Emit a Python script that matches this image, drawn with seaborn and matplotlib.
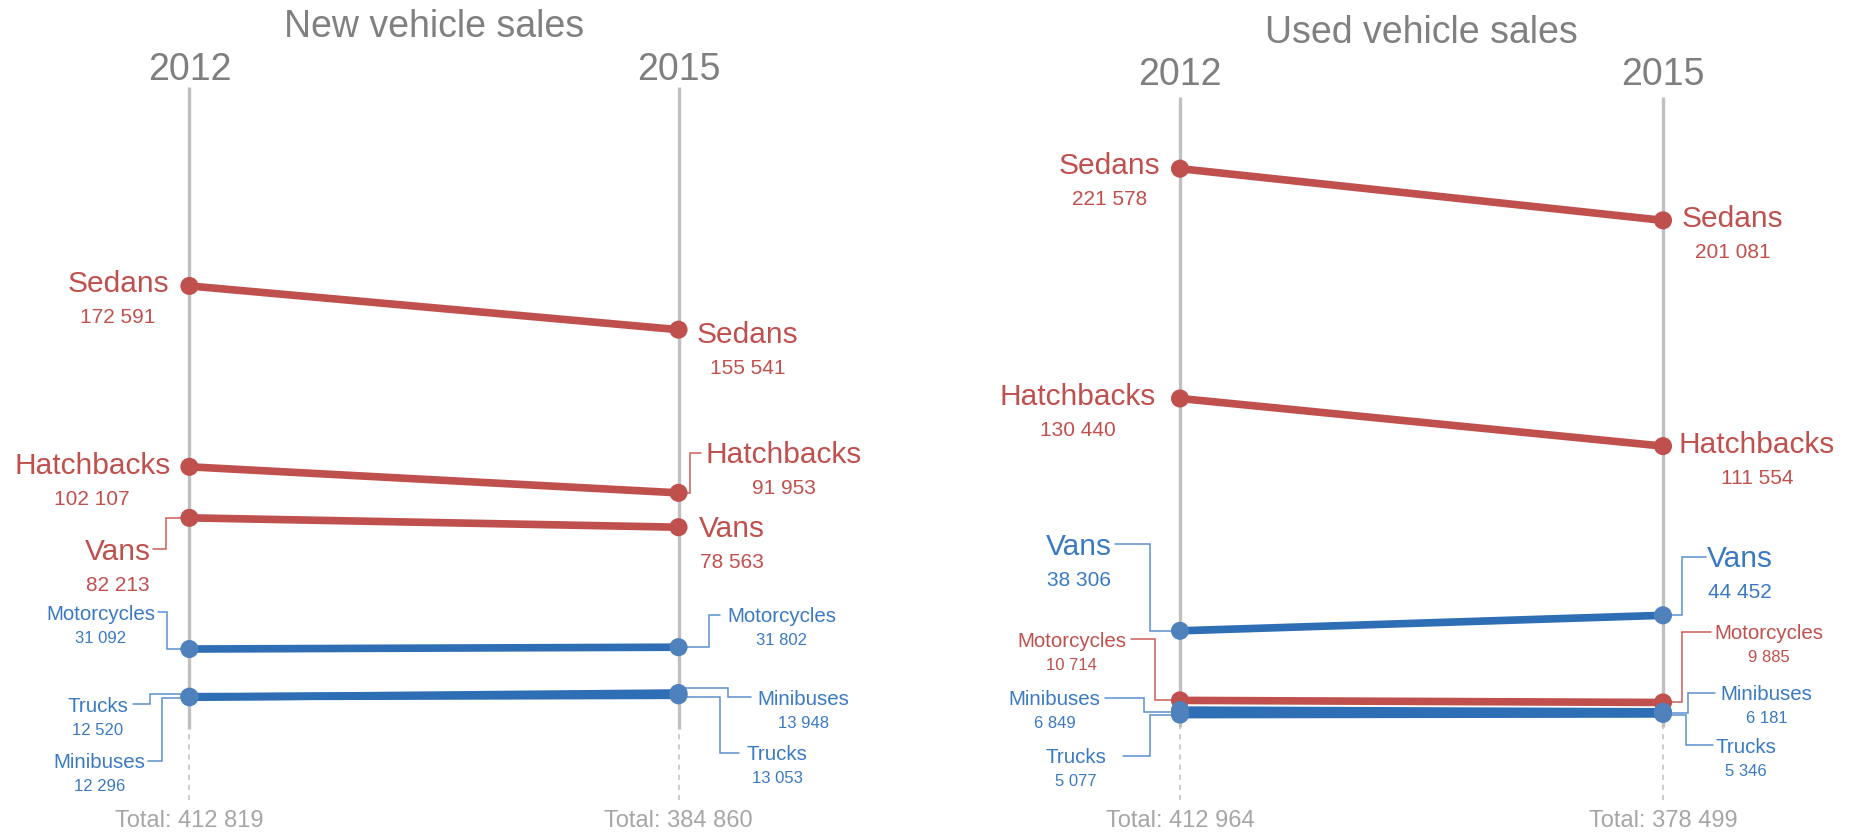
import matplotlib
matplotlib.use("Agg")
import matplotlib.pyplot as plt
import pandas as pd
import seaborn as sns

# ---- data -------------------------------------------------------------
years = [2012, 2015]
categories = ["Sedans", "Hatchbacks", "Vans", "Motorcycles", "Trucks", "Minibuses"]
new_2012 = [172591, 102107, 82213, 31092, 12520, 12296]
new_2015 = [155541, 91953, 78563, 31802, 13053, 13948]
used_2012 = [221578, 130440, 38306, 10714, 5077, 6849]
used_2015 = [201081, 111554, 44452, 9885, 5346, 6181]
new_group = ["down", "down", "down", "up", "up", "up"]
used_group = ["down", "down", "up", "down", "up", "up"]
titles = ["New vehicle sales", "Used vehicle sales"]

# ---- style ------------------------------------------------------------
RED = "#c0504d"
BLUE_LINE = "#2e6eb5"
BLUE_DOT = "#4f81bd"
BLUE_TEXT = "#3a79c3"
RED_CONN = "#cd5c57"
BLUE_CONN = "#5b8fd0"
line_pal = {"down": RED, "up": BLUE_LINE}
dot_pal = {"down": RED, "up": BLUE_DOT}
text_pal = {"down": RED, "up": BLUE_TEXT}
conn_pal = {"down": RED_CONN, "up": BLUE_CONN}

W, H = 1852, 832
SCALE_TOP = 250000

# label layout in pixels: (name baseline - dot y, text gap from axis, connector)
# connector = (attach dy, elbow dx, stub end dx), dx measured outward from axis
NEW_LAYOUT = {
    2012: {
        "Sedans": (6, 20.5, None),
        "Hatchbacks": (7, 19, None),
        "Vans": (42, 38.5, (0, 23.5, 36.5)),
        "Motorcycles": (-29.3, 34.3, (0, 22.6, 31)),
        "Trucks": (15, 61, (-2.7, 39.3, 56)),
        "Minibuses": (71, 44.3, (0.5, 27.6, 41)),
    },
    2015: {
        "Sedans": (13, 18, None),
        "Hatchbacks": (-29.4, 27, (0, 11, 22.6)),
        "Vans": (10, 20, None),
        "Motorcycles": (-25, 48.7, (0, 30, 41)),
        "Trucks": (64.7, 68, (1.7, 41, 60)),
        "Minibuses": (11.5, 79.3, (-5.5, 49.7, 72.7)),
    },
}
USED_LAYOUT = {
    2012: {
        "Sedans": (5.4, 20, None),
        "Hatchbacks": (6.6, 24, None),
        "Vans": (-75.8, 68, (0, 30.5, 65)),
        "Motorcycles": (-53.7, 54, (0, 25, 49.3)),
        "Trucks": (48.7, 74, (0, 30, 57.3)),
        "Minibuses": (-5, 79.6, (1.6, 36, 75)),
    },
    2015: {
        "Sedans": (6.4, 18.6, None),
        "Hatchbacks": (7.3, 15.8, None),
        "Vans": (-48, 44.3, (0, 18.7, 43)),
        "Motorcycles": (-63.2, 51.3, (0, 19, 48)),
        "Trucks": (38.8, 52, (1, 23, 50.3)),
        "Minibuses": (-11.8, 57.7, (1, 25.3, 52)),
    },
}

panels = [
    dict(title=titles[0], v0=new_2012, v1=new_2015, group=new_group, layout=NEW_LAYOUT,
         x0=189.4, x1=678.5, top=87.3, zero=728.8, title_base=37.3, year_base=80),
    dict(title=titles[1], v0=used_2012, v1=used_2015, group=used_group, layout=USED_LAYOUT,
         x0=1180, x1=1663, top=97, zero=727.4, title_base=43.3, year_base=85),
]
BOTTOM = 800
TOTAL_BASE = 826.7


def fmt(v):
    return f"{v:,}".replace(",", " ")


sns.set_theme(style="white")
plt.rcParams["font.family"] = ["Liberation Sans", "DejaVu Sans"]

fig = plt.figure(figsize=(W / 100, H / 100), dpi=100)
renderer = fig.canvas.get_renderer()

for p in panels:
    ppy = (p["x1"] - p["x0"]) / (years[1] - years[0])
    left_px, right_px = p["x0"] - 60, p["x1"] + 60
    ax = fig.add_axes([left_px / W, (H - BOTTOM) / H, (right_px - left_px) / W, (BOTTOM - p["top"]) / H])

    df = pd.DataFrame({
        "category": categories * 2,
        "year": [years[0]] * len(categories) + [years[1]] * len(categories),
        "sales": list(p["v0"]) + list(p["v1"]),
        "group": list(p["group"]) * 2,
    })

    sns.lineplot(data=df, x="year", y="sales", units="category", estimator=None, hue="group",
                 palette=line_pal, linewidth=5.5, legend=False, sort=False, ax=ax, zorder=3)
    sns.scatterplot(data=df, x="year", y="sales", hue="group", palette=dot_pal, s=170,
                    linewidth=0, legend=False, ax=ax, zorder=4, clip_on=False)

    ymin = -(BOTTOM - p["zero"]) / (p["zero"] - p["top"]) * SCALE_TOP
    ax.set_xlim(years[0] - (p["x0"] - left_px) / ppy, years[1] + (right_px - p["x1"]) / ppy)
    ax.set_ylim(ymin, SCALE_TOP)
    ax.set_axis_off()

    inv = ax.transData.inverted()

    def to_data(xp, yp):
        return inv.transform((xp, H - yp))

    def to_px(x, y):
        d = ax.transData.transform((x, y))
        return d[0], H - d[1]

    # year axes
    for yr, total in zip(years, [sum(p["v0"]), sum(p["v1"])]):
        ax.plot([yr, yr], [0, SCALE_TOP], color="#c0c0c0", lw=2.4, zorder=1,
                solid_capstyle="butt", clip_on=False)
        ax.plot([yr, yr], [ymin, 0], color="#c8c8c8", lw=1.3, ls=(0, (2.8, 2.8)),
                zorder=1, clip_on=False)
        xd, yd = to_data(to_px(yr, 0)[0], p["year_base"])
        ax.text(yr, yd, str(yr), fontsize=27, color="#7f7f7f", ha="center", va="baseline")
        xd, yd = to_data(to_px(yr, 0)[0], TOTAL_BASE)
        ax.text(yr, yd, f"Total: {fmt(total)}", fontsize=17, color="#a6a6a6",
                ha="center", va="baseline")

    xd, yd = to_data((p["x0"] + p["x1"]) / 2, p["title_base"])
    ax.text(xd, yd, p["title"], fontsize=27, color="#808080", ha="center", va="baseline")

    # labels
    for yr, vals, side in [(years[0], p["v0"], -1), (years[1], p["v1"], 1)]:
        for cat, v, grp, other in zip(categories, vals, p["group"],
                                      p["v1"] if side < 0 else p["v0"]):
            big = max(v, other) >= 35000
            name_size, val_size = (21.5, 15) if big else (14.8, 12)
            val_gap = 31 if big else 23
            name_dy, gap, conn = p["layout"][yr][cat]
            ax_px, dot_py = to_px(yr, v)
            base = dot_py + name_dy
            xd, yd = to_data(ax_px + side * gap, base)
            t = ax.text(xd, yd, cat, fontsize=name_size, color=text_pal[grp],
                        ha="left" if side > 0 else "right", va="baseline")
            bb = t.get_window_extent(renderer=renderer)
            cx = (bb.x0 + bb.x1) / 2
            xd, yd = to_data(cx, base + val_gap)
            ax.text(xd, yd, fmt(v), fontsize=val_size, color=text_pal[grp],
                    ha="center", va="baseline")
            if conn is not None:
                attach, elbow, stub = conn
                cy = base - name_size / 2
                pts = [(ax_px, dot_py + attach), (ax_px + side * elbow, dot_py + attach),
                       (ax_px + side * elbow, cy), (ax_px + side * stub, cy)]
                dpts = [to_data(a, b) for a, b in pts]
                ax.plot([q[0] for q in dpts], [q[1] for q in dpts], color=conn_pal[grp],
                        lw=1.1, zorder=2, clip_on=False, solid_joinstyle="miter")

fig.savefig("out.png", dpi=100)
